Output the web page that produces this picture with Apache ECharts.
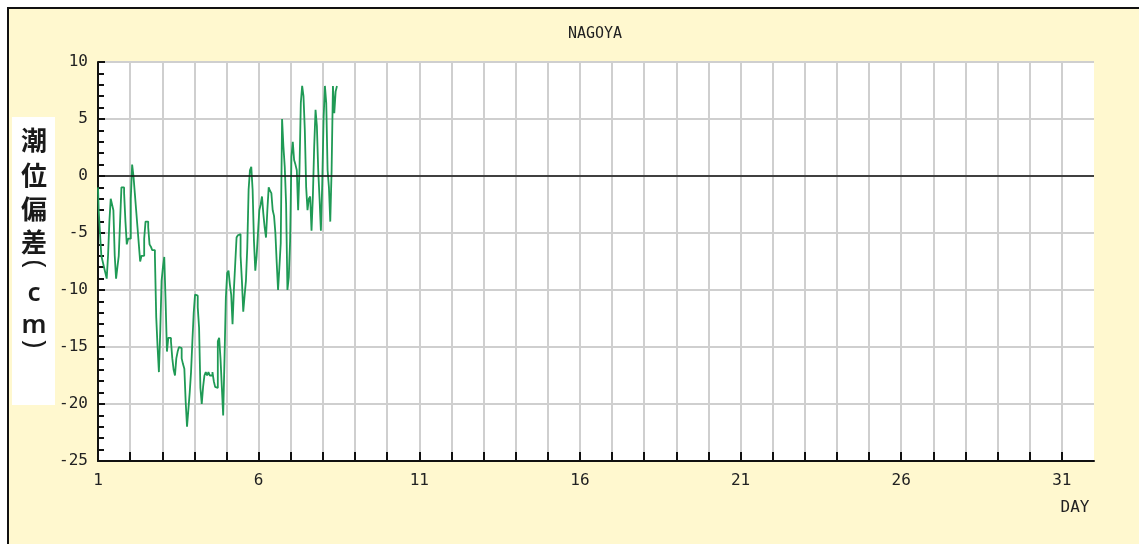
<!DOCTYPE html>
<html>
<head>
<meta charset="utf-8">
<script src="https://cdn.jsdelivr.net/npm/echarts@6.0.0/dist/echarts.min.js"></script>
<style>
  html, body { margin: 0; padding: 0; background: #fff; }
  #frame {
    position: absolute; left: 7px; top: 7px;
    width: 1200px; height: 600px;
    border: 2px solid #111;
    background: #fff8cf;
  }
  #tideChart { position: absolute; left: 0; top: 0; width: 1139px; height: 544px; }
</style>
</head>
<body>
<div id="frame"></div>
<div id="tideChart"></div>
<script>
// 観測地点
var station = 'NAGOYA'
// 潮位偏差 (cm) 1日0時から1時間ごと
var deviation = [
  -1, -3, -5, -7, -7.5, -8, -8.5, -9, -7, -4, -2, -2.5,
  -3, -7, -9, -8, -7, -4, -1, -1, -1.5, -4, -6, -5.5,
  -5.5, -2, 1, 0, -1.5, -3, -4.5, -6, -7.5, -7, -7, -5.5,
  -4, -4, -4.5, -6, -6.2, -6.5, -6.5, -7, -12.4, -15, -17.2, -13.6,
  -9.2, -8, -7.1, -11, -15.4, -14.2, -14.2, -14.5, -16, -17, -17.5, -16,
  -15.4, -15, -15.1, -16, -16.5, -16.9, -19.8, -22, -20.5, -19, -17.2, -14.5,
  -12, -10.4, -10.5, -11.5, -13.3, -18.6, -20, -18.5, -17.5, -17.2, -17.5, -17.2,
  -17.5, -17.5, -17.2, -18, -18.5, -18.6, -14.5, -14.2, -16, -18.5, -21, -16,
  -10.7, -8.5, -8.3, -9.5, -10.4, -13, -10, -7.7, -5.4, -5.2, -5.1, -7,
  -9.2, -11.9, -10.5, -9.2, -6.3, -1.2, 0.5, 0.8, -1.2, -5.7, -8.3, -7,
  -5, -3, -2.5, -1.8, -3.3, -4.5, -5.4, -3, -1, -1.3, -1.5, -3,
  -3.5, -5, -7.6, -10, -8, -5.9, 5, 2.6, 0.8, -2.4, -10, -8.9,
  -5.7, 1.7, 3, 1.4, 1, 0.5, -3, 0.5, 6.4, 7.9, 7, 4,
  -1, -3, -2, -1.8, -4.8, -1.8, 2.6, 5.8, 4.4, 0.5, -2, -4.8,
  -0.7, 5, 7.9, 6.4, 0.5, -1, -4, 0.5, 7.9, 5.5, 7.4, 7.9
]
// 軸の目盛
var dayTicks = [1, 6, 11, 16, 21, 26, 31]
var yRange = [-25, 10]
// 縦書きの軸名 (括弧は回して縦書きにする)
var yNameChars = ['潮', '位', '偏', '差', '(', 'c', 'm', ')']
var yNameRows = [140, 175, 209, 242, 264, 294, 326, 344]

var monoFont = 'DejaVu Sans Mono'

function initTideChart(domId) {
  var myChart = echarts.init(document.getElementById(domId))

  var points = deviation.map(function (v, h) {
    return [1 + h / 24, v]
  })

  var nameTexts = yNameChars.map(function (c, i) {
    var isParen = c === '(' || c === ')'
    var isLatin = c === 'c' || c === 'm'
    var font = isParen ? '28px "Noto Sans"' : isLatin ? '600 26px "Noto Sans"' : 'bold 26px "Noto Sans CJK JP"'
    return {
      type: 'text',
      x: 34,
      y: yNameRows[i],
      rotation: isParen ? -Math.PI / 2 : 0,
      style: {
        text: c,
        fill: '#1a1a1a',
        font: font,
        align: 'center',
        verticalAlign: 'middle'
      }
    }
  })

  var option = {
    backgroundColor: 'transparent',
    animation: false,
    title: {
      text: station,
      left: 590,
      top: 22,
      textAlign: 'center',
      textStyle: { fontFamily: monoFont, fontSize: 15, fontWeight: 'normal', color: '#222' }
    },
    graphic: [
      { type: 'rect', shape: { x: 12, y: 117, width: 43, height: 288 }, style: { fill: '#fff' } }
    ].concat(nameTexts).concat([
      {
        type: 'text', x: 1075, y: 508,
        style: { text: 'DAY', fill: '#222', font: '16px "' + monoFont + '"', align: 'center', verticalAlign: 'middle' }
      }
    ]),
    grid: {
      left: 98, top: 62, width: 996, height: 399,
      show: true, backgroundColor: '#fff', borderWidth: 0
    },
    xAxis: {
      type: 'value',
      min: 1,
      max: 32,
      interval: 1,
      axisLine: { onZero: false, lineStyle: { color: '#111', width: 2 } },
      axisTick: { inside: true, length: 9, lineStyle: { color: '#111', width: 2 } },
      axisLabel: {
        margin: 12,
        fontFamily: monoFont,
        fontSize: 16,
        color: '#222',
        showMaxLabel: false,
        formatter: function (v) {
          return dayTicks.indexOf(v) >= 0 ? String(v) : ''
        }
      },
      splitLine: { show: true, showMaxLine: false, lineStyle: { color: '#cfcfcf', width: 2 } }
    },
    yAxis: {
      type: 'value',
      min: yRange[0],
      max: yRange[1],
      interval: 5,
      axisLine: { show: true, onZero: false, lineStyle: { color: '#111', width: 2 } },
      axisTick: { inside: true, length: 7, lineStyle: { color: '#111', width: 2 } },
      minorTick: { show: true, splitNumber: 5, length: 6, lineStyle: { color: '#111', width: 2 } },
      axisLabel: {
        margin: 10,
        fontFamily: monoFont,
        fontSize: 16,
        color: '#222'
      },
      splitLine: { show: true, lineStyle: { color: '#cfcfcf', width: 2 } }
    },
    series: [
      {
        type: 'line',
        data: points,
        step: 'middle',
        showSymbol: false,
        lineStyle: { color: '#1f9a55', width: 1.8 },
        markLine: {
          silent: true,
          symbol: 'none',
          label: { show: false },
          lineStyle: { color: '#111', width: 1.5, type: 'solid' },
          data: [{ yAxis: 0 }]
        }
      }
    ]
  }

  myChart.setOption(option)
}

initTideChart('tideChart')
</script>
</body>
</html>
